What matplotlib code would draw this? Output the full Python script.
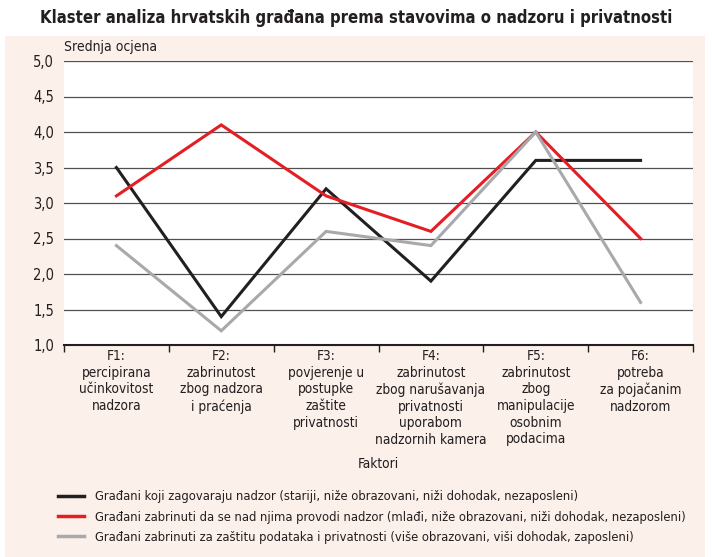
import matplotlib
matplotlib.use("Agg")
import matplotlib.pyplot as plt
from matplotlib.patches import Rectangle
from matplotlib.lines import Line2D

# ============================
# Daten
# ============================
categories = [
    "F1:\npercipirana\nučinkovitost\nnadzora",
    "F2:\nzabrinutost\nzbog nadzora\ni praćenja",
    "F3:\npovjerenje u\npostupke\nzaštite\nprivatnosti",
    "F4:\nzabrinutost\nzbog narušavanja\nprivatnosti\nuporabom\nnadzornih kamera",
    "F5:\nzabrinutost\nzbog\nmanipulacije\nosobnim\npodacima",
    "F6:\npotreba\nza pojačanim\nnadzorom",
]
zagovaraju = [3.5, 1.4, 3.2, 1.9, 3.6, 3.6]
zabrinuti_nadzor = [3.1, 4.1, 3.1, 2.6, 4.0, 2.5]
zabrinuti_podaci = [2.4, 1.2, 2.6, 2.4, 4.0, 1.6]
series_labels = [
    "Građani koji zagovaraju nadzor (stariji, niže obrazovani, niži dohodak, nezaposleni)",
    "Građani zabrinuti da se nad njima provodi nadzor (mlađi, niže obrazovani, niži dohodak, nezaposleni)",
    "Građani zabrinuti za zaštitu podataka i privatnosti (više obrazovani, viši dohodak, zaposleni)",
]
y_ticks = [1.0, 1.5, 2.0, 2.5, 3.0, 3.5, 4.0, 4.5, 5.0]

COLORS = ["#231f20", "#e31e24", "#a7a9ac"]
BG = "#fbf0ea"

plt.rcParams["font.family"] = ["DejaVu Sans"]
plt.rcParams["font.stretch"] = "condensed"

W, H = 712, 557
fig = plt.figure(figsize=(W / 100, H / 100), dpi=100, facecolor="white")

# beige panel
fig.patches.append(Rectangle((5 / W, 0), 700 / W, 1 - 36 / H, transform=fig.transFigure,
                             facecolor=BG, edgecolor="none", zorder=-1))

fig.text(0.5, 1 - 18 / H, "Klaster analiza hrvatskih građana prema stavovima o nadzoru i privatnosti",
         ha="center", va="center", fontsize=12, fontweight="bold", color="#231f20")

ax = fig.add_axes([64 / W, 1 - 345 / H, 629 / W, 284 / H])
ax.set_zorder(2)
ax.set_facecolor("white")

x = list(range(len(categories)))
for vals, c in zip([zagovaraju, zabrinuti_nadzor, zabrinuti_podaci], COLORS):
    ax.plot(x, vals, color=c, lw=2.2, solid_joinstyle="miter", zorder=3)

ax.set_xlim(-0.5, len(categories) - 0.5)
ax.set_ylim(1.0, 5.0)
ax.set_yticks(y_ticks)
ax.set_yticklabels([f"{v:.1f}".replace(".", ",") for v in y_ticks], fontsize=10.5, color="#231f20")
ax.yaxis.grid(True, color="#505050", lw=0.9)
ax.set_axisbelow(True)
ax.tick_params(axis="y", length=0, pad=7)

# x axis: ticks on category borders, labels at centers
ax.set_xticks([i - 0.5 for i in range(len(categories) + 1)])
ax.set_xticklabels([])
ax.set_xticks(x, minor=True)
ax.set_xticklabels(categories, minor=True, fontsize=9.8, color="#231f20", linespacing=1.24, va="top")
ax.tick_params(axis="x", which="major", length=5, width=1, color="#231f20", direction="out")
ax.tick_params(axis="x", which="minor", length=0, pad=3)

for s in ["top", "right", "left"]:
    ax.spines[s].set_visible(False)
ax.spines["bottom"].set_color("#231f20")
ax.spines["bottom"].set_linewidth(1.5)

fig.text(64 / W, 1 - 47 / H, "Srednja ocjena", ha="left", va="center", fontsize=10, color="#231f20")
fig.text(378 / W, 1 - 464 / H, "Faktori", ha="center", va="center", fontsize=9.8, color="#231f20")

handles = [Line2D([0], [0], color=c, lw=2.5) for c in COLORS]
fig.legend(handles, series_labels, loc="upper left", bbox_to_anchor=(52 / W, 1 - 484 / H),
           frameon=False, fontsize=9.3, handlelength=2.0, handletextpad=0.8,
           labelspacing=0.55, borderpad=0, labelcolor="#231f20")

fig.savefig("out.png", dpi=100, facecolor="white")
